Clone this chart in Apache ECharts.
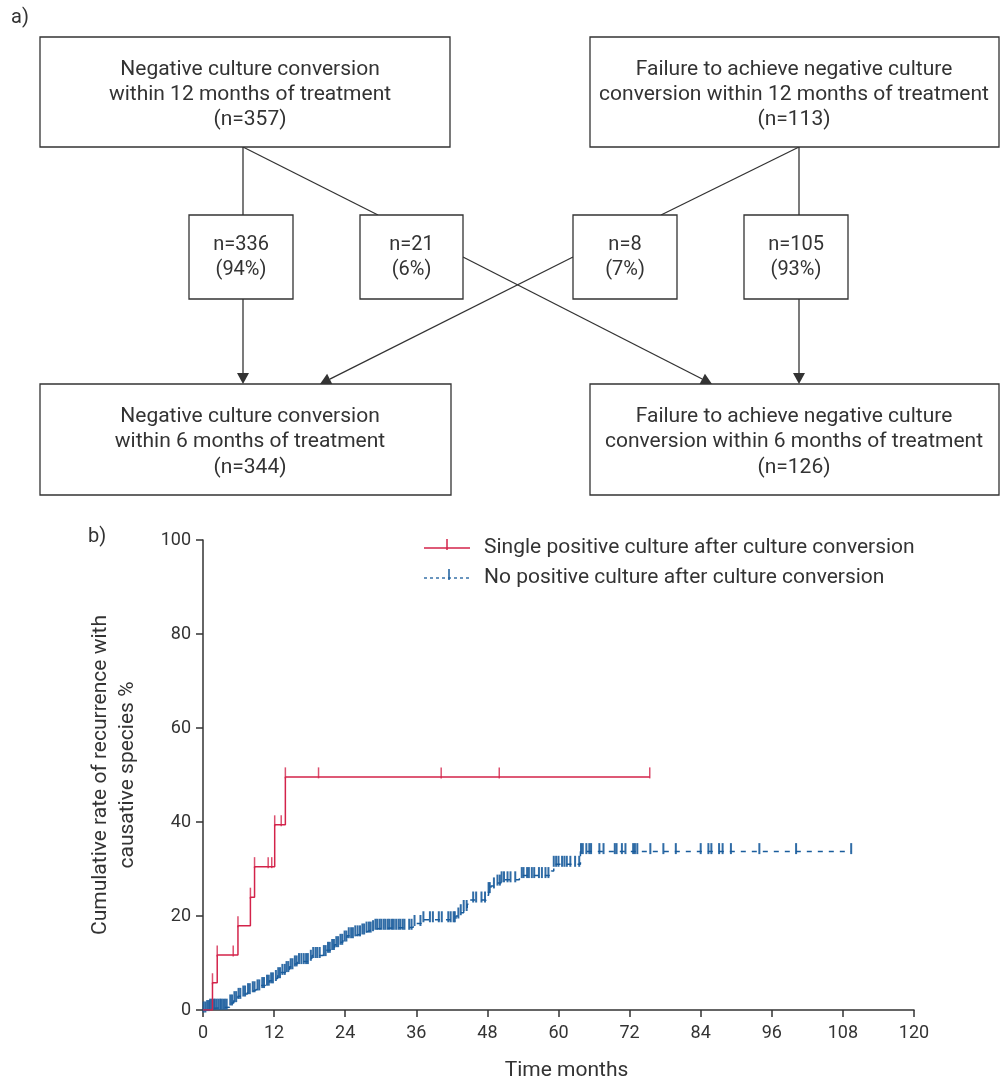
<!DOCTYPE html>
<html>
<head>
<meta charset="utf-8">
<script src="https://cdn.jsdelivr.net/npm/echarts@6/dist/echarts.min.js"></script>
<style>html,body{margin:0;padding:0;background:#fff}#c{width:1003px;height:1082px}</style>
</head>
<body>
<div id="c"></div>
<script>
// ---------- Data ----------
const xTicks = [0, 12, 24, 36, 48, 60, 72, 84, 96, 108, 120];
const yTicks = [0, 20, 40, 60, 80, 100];
const seriesNames = ['Single positive culture after culture conversion', 'No positive culture after culture conversion'];

// Kaplan–Meier steps [month, cumulative %] (value changes at the given month)
const redSteps = [[0, 0], [1.6, 5.8], [2.4, 11.7], [5.9, 17.9], [8.0, 24.0], [8.7, 30.5], [12.1, 39.4], [13.9, 49.6], [75.4, 49.6]];
const redCensor = [1.6, 2.4, 5.1, 5.9, 8.0, 8.7, 11.0, 11.6, 12.1, 13.2, 13.9, 19.5, 40.2, 50.0, 75.4];

const blueSteps = [[0, 0], [0.5, 0.3], [1.2, 0.6], [4.5, 1.5], [5.2, 2.2], [5.9, 2.9], [6.6, 3.4], [7.5, 3.9], [8.3, 4.3],
  [9.0, 4.7], [9.8, 5.2], [10.5, 5.7], [11.2, 6.2], [11.9, 6.7], [12.6, 7.3], [13.2, 8.0], [13.9, 8.6], [14.6, 9.2], [15.2, 9.8],
  [15.9, 10.3], [18.0, 11.0], [18.4, 11.6], [20.2, 12.0], [20.8, 12.7], [21.5, 13.3], [22.2, 13.9], [22.9, 14.4], [23.6, 15.1],
  [24.3, 15.8], [25.5, 16.2], [26.8, 16.6], [27.6, 17.0], [28.4, 17.3], [29.1, 17.6], [35.5, 18.4], [36.8, 19.2], [42.7, 20.0],
  [43.4, 20.7], [44.0, 21.6], [44.6, 22.5], [45.0, 23.4], [47.8, 24.4], [48.2, 25.4], [48.6, 26.4], [49.6, 27.0], [50.3, 27.7],
  [53.4, 28.6], [58.8, 29.6], [59.2, 31.0], [63.7, 33.7], [109.4, 33.7]];
const blueCensor = [0.1, 0.4, 0.7, 1.0, 1.2, 1.5, 1.8, 2.0, 2.3, 2.6, 2.9, 3.1, 3.4, 3.7, 4.0,
  4.6, 4.9, 5.3, 5.6, 6.0, 6.3, 6.8, 7.1, 7.6, 7.9, 8.4, 8.7, 9.2, 9.5, 10.0, 10.3, 10.8, 11.1, 11.5, 11.8, 12.3, 12.7, 13.0, 13.4,
  13.8, 14.1, 14.4, 14.8, 15.1, 15.5, 15.8, 16.2, 16.6, 17.0, 17.4, 17.7, 18.2, 18.6, 19.0, 19.3, 19.7, 20.4, 20.7, 21.1, 21.4,
  21.8, 22.1, 22.5, 22.8, 23.2, 23.5, 23.9, 24.2, 24.6, 25.0, 25.3, 25.7, 26.1, 26.5, 26.9, 27.2, 27.6, 28.0, 28.3, 28.7, 29.1,
  29.4, 29.8, 30.1, 30.5, 30.8, 31.2, 31.5, 31.9, 32.2, 32.6, 33.0, 33.3, 33.7, 34.0, 34.8, 35.2, 35.7, 36.7, 37.2, 38.3, 38.8,
  39.8, 40.3, 41.4, 41.8, 42.3, 42.5, 43.1, 43.5, 44.0, 44.5, 45.6, 46.1, 47.0, 47.6, 48.2, 48.4, 49.1, 49.7, 50.1, 50.4, 50.8,
  51.4, 51.9, 52.7, 53.8, 54.1, 54.7, 55.0, 55.5, 55.9, 56.7, 57.2, 57.8, 58.3, 59.2, 59.6, 60.0, 60.6, 61.0, 61.4, 62.0, 62.8,
  63.5, 63.8, 64.1, 64.7, 65.2, 65.5, 66.9, 67.6, 69.5, 69.8, 70.7, 71.3, 72.6, 72.9, 73.3, 75.5, 77.7, 79.8, 84.0, 85.3, 85.8,
  87.1, 87.7, 89.1, 93.9, 100.1, 109.4];

// Flowchart texts
const topLeftText = ['Negative culture conversion', 'within 12 months of treatment', '(n=357)'];
const topRightText = ['Failure to achieve negative culture', 'conversion within 12 months of treatment', '(n=113)'];
const midTexts = [['n=336', '(94%)'], ['n=21', '(6%)'], ['n=8', '(7%)'], ['n=105', '(93%)']];
const botLeftText = ['Negative culture conversion', 'within 6 months of treatment', '(n=344)'];
const botRightText = ['Failure to achieve negative culture', 'conversion within 6 months of treatment', '(n=126)'];

// ---------- Styling ----------
const RED = '#d3234a', BLUE = '#195c9c', INK = '#333333';
const FONT = 'Roboto, "DejaVu Sans", sans-serif';

function valueAt(steps, t) {
  let v = steps[0][1];
  for (const s of steps) { if (s[0] <= t + 1e-9) v = s[1]; else break; }
  return v;
}

// ---------- Flowchart (graphic) ----------
const g = [];
function box(x, y, w, h) {
  g.push({ type: 'rect', shape: { x, y, width: w, height: h }, style: { fill: '#fff', stroke: INK, lineWidth: 1.3 }, z: 10 });
}
function lines(cx, ys, arr, size) {
  arr.forEach((t, i) => g.push({ type: 'text', x: cx, y: ys[i], z: 11,
    style: { text: t, align: 'center', verticalAlign: 'middle', fontSize: size, fontFamily: FONT, fill: INK } }));
}
function seg(x1, y1, x2, y2) {
  g.push({ type: 'line', shape: { x1, y1, x2, y2 }, style: { stroke: INK, lineWidth: 1.3 }, z: 5 });
}
function arrow(x1, y1, x2, y2) {
  const L = 11, W = 6;
  const dx = x2 - x1, dy = y2 - y1, len = Math.hypot(dx, dy), ux = dx / len, uy = dy / len;
  const bx = x2 - ux * L, by = y2 - uy * L;
  seg(x1, y1, bx, by);
  g.push({ type: 'polygon', z: 6, shape: { points: [[x2, y2], [bx - uy * W, by + ux * W], [bx + uy * W, by - ux * W]] }, style: { fill: INK } });
}

g.push({ type: 'text', x: 11, y: 18, style: { text: 'a)', verticalAlign: 'middle', fontSize: 20, fontFamily: FONT, fill: INK } });
g.push({ type: 'text', x: 88, y: 537, style: { text: 'b)', verticalAlign: 'middle', fontSize: 20, fontFamily: FONT, fill: INK } });

box(40, 37, 410, 110); lines(250, [70, 95, 120], topLeftText, 21);
box(590, 37, 409, 110); lines(794, [70, 95, 120], topRightText, 21);
const mids = [[189, 104], [360, 103], [573, 104], [744, 104]];
mids.forEach((m, i) => { box(m[0], 215, m[1], 84); lines(m[0] + m[1] / 2, [245, 270], midTexts[i], 20); });
box(40, 384, 411, 111); lines(250, [417, 442, 468], botLeftText, 21);
box(590, 384, 409, 111); lines(794, [417, 442, 468], botRightText, 21);

seg(243, 147, 243, 215); seg(243, 147, 378, 215);
seg(799, 147, 799, 215); seg(799, 147, 661, 215);
arrow(243, 299, 243, 384);
arrow(799, 299, 799, 384);
arrow(463, 257, 712, 384);
arrow(573, 257, 320, 384);

// Legend (graphic)
g.push({ type: 'line', shape: { x1: 424, y1: 548, x2: 470, y2: 548 }, style: { stroke: RED, lineWidth: 1.5 } });
g.push({ type: 'line', shape: { x1: 447, y1: 539, x2: 447, y2: 550 }, style: { stroke: RED, lineWidth: 1.5 } });
g.push({ type: 'text', x: 484, y: 548, style: { text: seriesNames[0], verticalAlign: 'middle', fontSize: 21, fontFamily: FONT, fill: INK } });
g.push({ type: 'line', shape: { x1: 424, y1: 578, x2: 470, y2: 578 }, style: { stroke: BLUE, lineWidth: 1.3, lineDash: [3, 3] } });
g.push({ type: 'line', shape: { x1: 449, y1: 569, x2: 449, y2: 580 }, style: { stroke: BLUE, lineWidth: 1.5 } });
g.push({ type: 'text', x: 484, y: 578, style: { text: seriesNames[1], verticalAlign: 'middle', fontSize: 21, fontFamily: FONT, fill: INK } });

// ---------- Chart ----------
const chart = echarts.init(document.getElementById('c'), null, { renderer: 'canvas' });
const axisCommon = {
  axisLine: { show: true, lineStyle: { color: INK, width: 1.5 } },
  axisTick: { show: true, length: 7, lineStyle: { color: INK, width: 1.5 } },
  splitLine: { show: false },
  axisLabel: { color: INK, fontSize: 18, fontFamily: FONT }
};
chart.setOption({
  animation: false,
  backgroundColor: '#fff',
  grid: { left: 203, right: 89, top: 540, bottom: 68.5, containLabel: false },
  xAxis: Object.assign({}, axisCommon, {
    type: 'value', min: xTicks[0], max: xTicks[xTicks.length - 1], interval: 12,
    name: 'Time months', nameLocation: 'middle', nameGap: 50,
    nameTextStyle: { color: INK, fontSize: 21, fontFamily: FONT, padding: [0, 0, 0, 16] },
    axisLabel: Object.assign({}, axisCommon.axisLabel, { margin: 14 })
  }),
  yAxis: Object.assign({}, axisCommon, {
    type: 'value', min: yTicks[0], max: yTicks[yTicks.length - 1], interval: 20,
    name: 'Cumulative rate of recurrence with\ncausative species %', nameLocation: 'middle', nameRotate: 90, nameGap: 62,
    nameTextStyle: { color: INK, fontSize: 21, fontFamily: FONT, lineHeight: 27, align: 'center' },
    axisLabel: Object.assign({}, axisCommon.axisLabel, { margin: 12 })
  }),
  graphic: g,
  series: [
    { name: seriesNames[0], type: 'line', step: 'end', showSymbol: false, symbol: 'none', data: redSteps,
      lineStyle: { color: RED, width: 1.5 }, z: 4 },
    { name: seriesNames[1], type: 'line', step: 'end', showSymbol: false, symbol: 'none', data: blueSteps,
      lineStyle: { color: BLUE, width: 1.5, type: [5, 6] }, z: 3 },
    { name: seriesNames[0] + ' censored', type: 'scatter', symbol: 'rect', symbolSize: [1.5, 11], symbolOffset: [0, -4],
      itemStyle: { color: RED }, data: redCensor.map(t => [t, valueAt(redSteps, t)]), z: 4 },
    { name: seriesNames[1] + ' censored', type: 'scatter', symbol: 'rect', symbolSize: [2, 11], symbolOffset: [0, -3],
      itemStyle: { color: BLUE, opacity: 0.9 }, data: blueCensor.map(t => [t, valueAt(blueSteps, t)]), z: 3 }
  ]
});
</script>
</body>
</html>
